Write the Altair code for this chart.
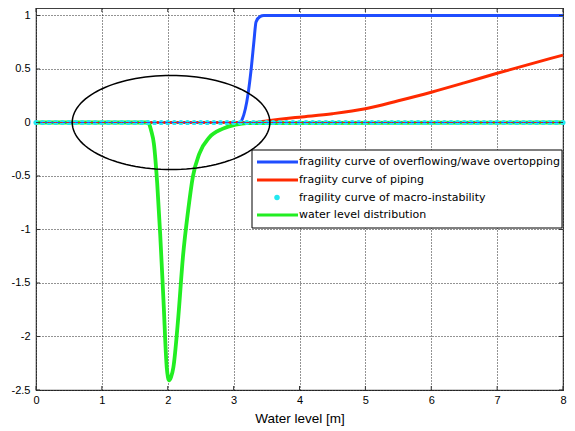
import altair as alt
import pandas as pd
import numpy as np

# ---------------- data ----------------
over_x = [0, 3.10, 3.13, 3.22, 3.27, 3.31, 3.34, 3.40, 3.46, 8]
over_y = [0, 0, 0.03, 0.27, 0.52, 0.77, 0.94, 0.99, 1.0, 1.0]

pip_x = [0, 3.3, 3.5, 3.7, 4.0, 4.5, 5.0, 5.5, 6.0, 6.5, 7.0, 7.5, 7.8, 8.0]
pip_y = [0, 0, 0.015, 0.03, 0.05, 0.082, 0.128, 0.203, 0.283, 0.37, 0.46, 0.545, 0.597, 0.63]

macro_x = [round(0.1 * i, 1) for i in range(81)]
macro_y = [0.0] * 81

wl_x = [0, 1.70, 1.75, 1.79, 1.84, 1.885, 1.935, 1.985, 2.02, 2.05, 2.085,
        2.16, 2.23, 2.31, 2.38, 2.48, 2.63, 2.83, 3.03, 3.2, 8]
wl_y = [0, 0, -0.08, -0.2, -0.57, -1.04, -1.66, -2.29, -2.41, -2.38, -2.29,
        -1.82, -1.26, -0.82, -0.51, -0.29, -0.14, -0.06, -0.02, -0.005, 0]

x_ticks = [0, 1, 2, 3, 4, 5, 6, 7, 8]
y_ticks = [1, 0.5, 0, -0.5, -1, -1.5, -2, -2.5]

legend_labels = [
    "fragility curve of overflowing/wave overtopping",
    "fragiity curve of piping",
    "fragility curve of macro-instability",
    "water level distribution",
]
colors = ["#1f4dff", "#ff2a00", "#22e8f0", "#22ee22"]

# annotation ellipse (centre / half-axes in data units)
ell_cx, ell_cy, ell_a, ell_b = 2.05, 0.0, 1.5, 0.44
t = np.linspace(0, 2 * np.pi, 121)
ell = pd.DataFrame({"x": ell_cx + ell_a * np.cos(t), "y": ell_cy + ell_b * np.sin(t), "i": range(len(t))})

W, H = 527, 382
FONT = "Liberation Sans"
LFONT = "DejaVu Sans"

xs = alt.Scale(domain=[0, 8], nice=False, zero=False)
ys = alt.Scale(domain=[-2.5, 1.07], nice=False, zero=False)
x_axis = alt.Axis(values=x_ticks, title="Water level [m]", ticks=False, domain=False,
                  grid=True, gridColor="black", gridDash=[1, 2], gridOpacity=0.85,
                  labelFont=FONT, labelFontSize=11, labelColor="black", labelPadding=4,
                  labelExpr="'' + datum.value",
                  titleFont=FONT, titleFontSize=13.5, titleFontWeight="normal",
                  titleColor="black", titlePadding=6, labelFlush=False)
y_axis = alt.Axis(values=y_ticks, title=None, ticks=False, domain=False,
                  grid=True, gridColor="black", gridDash=[1, 2], gridOpacity=0.85,
                  labelFont=FONT, labelFontSize=11, labelColor="black", labelPadding=6,
                  labelExpr="'' + datum.value", labelFlush=False)

X = alt.X("x:Q", scale=xs, axis=x_axis)
Y = alt.Y("y:Q", scale=ys, axis=y_axis)

over_df = pd.DataFrame({"x": over_x, "y": over_y})
pip_df = pd.DataFrame({"x": pip_x, "y": pip_y})
macro_df = pd.DataFrame({"x": macro_x, "y": macro_y})
wl_df = pd.DataFrame({"x": wl_x, "y": wl_y})

blue = alt.Chart(over_df).mark_line(color=colors[0], strokeWidth=3, interpolate="monotone").encode(x=X, y=Y)
red = alt.Chart(pip_df).mark_line(color=colors[1], strokeWidth=3, interpolate="monotone").encode(x=X, y=Y)
green = alt.Chart(wl_df).mark_line(color=colors[3], strokeWidth=3.8, interpolate="monotone").encode(x=X, y=Y)
cyan = alt.Chart(macro_df).mark_circle(color=colors[2], size=26, opacity=1).encode(x=X, y=Y)
thin_r = alt.Chart(macro_df).mark_line(color="#e02020", strokeWidth=1, strokeDash=[3, 3]).encode(x=X, y=Y)
thin_b = alt.Chart(macro_df).mark_line(color="#3040ff", strokeWidth=1, strokeDash=[3, 3],
                                       strokeDashOffset=3).encode(x=X, y=Y)

ellipse = alt.Chart(ell).mark_line(color="black", strokeWidth=1.5).encode(x=X, y=Y, order="i:Q")

# inward ticks on the frame
xt = pd.DataFrame({"x": x_ticks})
yt = pd.DataFrame({"y": y_ticks})
tick_b = alt.Chart(xt).mark_rule(color="#333", strokeWidth=1).encode(x=X, y=alt.value(H), y2=alt.value(H - 4))
tick_t = alt.Chart(xt).mark_rule(color="#333", strokeWidth=1).encode(x=X, y=alt.value(0), y2=alt.value(4))
tick_l = alt.Chart(yt).mark_rule(color="#333", strokeWidth=1).encode(y=Y, x=alt.value(0), x2=alt.value(4))
tick_r = alt.Chart(yt).mark_rule(color="#333", strokeWidth=1).encode(y=Y, x=alt.value(W - 4), x2=alt.value(W))

# legend box
one = pd.DataFrame({"a": [0]})
leg_box = alt.Chart(one).mark_rect(fill="white", stroke="black", strokeWidth=1).encode(
    x=alt.value(216), x2=alt.value(W - 1), y=alt.value(142), y2=alt.value(220))

leg_layers = [leg_box]
row_y = [154, 172, 189.5, 207]
for i, lab in enumerate(legend_labels):
    if i == 2:
        leg_layers.append(alt.Chart(one).mark_circle(color=colors[2], size=30, opacity=1).encode(
            x=alt.value(241), y=alt.value(row_y[i])))
    else:
        leg_layers.append(alt.Chart(one).mark_rule(color=colors[i], strokeWidth=3).encode(
            x=alt.value(221), x2=alt.value(262), y=alt.value(row_y[i])))
    leg_layers.append(alt.Chart(pd.DataFrame({"t": [lab]})).mark_text(
        align="left", baseline="middle", font=LFONT, fontSize=11, color="black").encode(
        x=alt.value(263), y=alt.value(row_y[i]), text="t:N"))

chart = alt.layer(
    blue, red, green, cyan, thin_r, thin_b, ellipse,
    tick_b, tick_t, tick_l, tick_r, *leg_layers
).properties(
    width=W, height=H,
    autosize=alt.AutoSizeParams(type="none"),
    padding={"left": 28, "top": 0, "right": 4, "bottom": 40},
    background="white",
).configure_view(stroke="#404040", strokeWidth=1.2)

chart.save("out.html", embed_options={"renderer": "svg", "actions": False})
